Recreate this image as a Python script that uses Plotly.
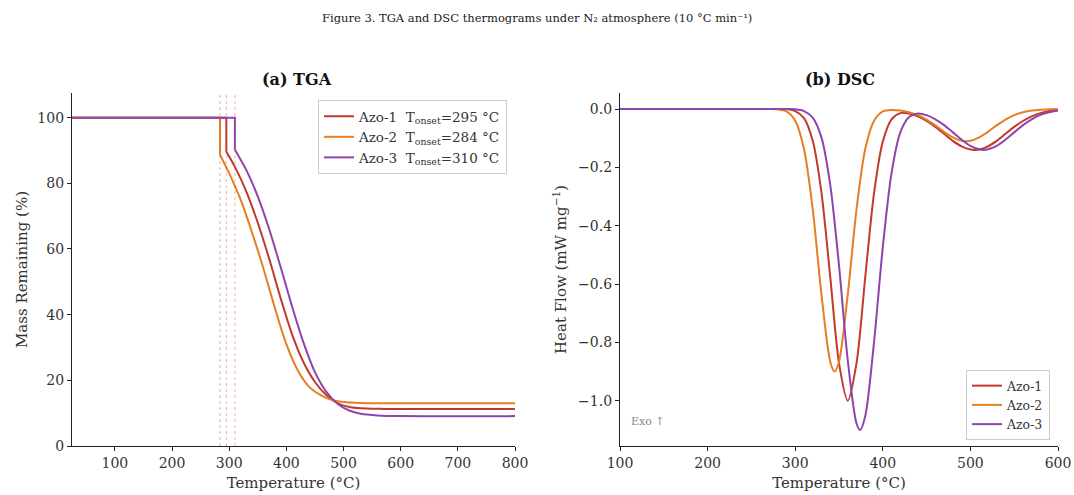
import plotly.graph_objects as go

# ---------------- data ----------------
series_names = ["Azo-1", "Azo-2", "Azo-3"]
onsets = [295, 284, 310]
colors = ["#c0392b", "#e67e22", "#8e44ad"]

# TGA (Temperature °C, Mass remaining %)
tga_T_azo1 = [25, 295, 295, 310, 330, 350, 370, 390, 410, 430, 450, 470, 490, 510, 540, 570, 800]
tga_m_azo1 = [100, 100, 89.6, 85, 77.5, 68, 57, 45, 34, 25.5, 19.5, 15.5, 13, 11.9, 11.4, 11.3, 11.3]
tga_T_azo2 = [25, 284, 284, 300, 320, 340, 360, 380, 400, 420, 440, 460, 480, 500, 530, 560, 800]
tga_m_azo2 = [100, 100, 88.7, 83, 75, 65, 54, 42, 31, 23, 18, 15.5, 14, 13.4, 13.1, 13.0, 13.0]
tga_T_azo3 = [25, 310, 310, 330, 350, 370, 390, 410, 430, 450, 470, 490, 510, 530, 560, 600, 800]
tga_m_azo3 = [100, 100, 90.2, 84, 76, 66, 54.5, 42.5, 31.5, 22.5, 16.5, 12.8, 10.8, 9.8, 9.3, 9.1, 9.1]

# DSC (Temperature °C, Heat flow mW/mg)
dsc_T_azo1 = [100, 200, 280, 290, 300, 310, 320, 330, 340, 350, 360, 370, 380, 390, 400, 410, 420,
              430, 440, 450, 460, 470, 480, 490, 500, 505, 510, 520, 530, 540, 550, 560, 570, 580,
              590, 600]
dsc_h_azo1 = [0, 0, 0, -0.001, -0.007, -0.031, -0.109, -0.287, -0.575, -0.871, -1.000, -0.871, -0.575,
              -0.288, -0.111, -0.035, -0.014, -0.015, -0.025, -0.041, -0.061, -0.085, -0.109, -0.128,
              -0.139, -0.140, -0.139, -0.128, -0.109, -0.085, -0.061, -0.041, -0.025, -0.014, -0.007,
              -0.004]
dsc_T_azo2 = [100, 200, 270, 280, 290, 300, 310, 320, 330, 340, 345, 350, 360, 370, 380, 390, 400,
              410, 420, 430, 440, 450, 460, 470, 480, 490, 500, 510, 520, 530, 540, 550, 560, 570,
              580, 590, 600]
dsc_h_azo2 = [0, 0, 0, -0.001, -0.008, -0.040, -0.136, -0.343, -0.636, -0.866, -0.900, -0.866, -0.636,
              -0.343, -0.136, -0.040, -0.008, -0.003, -0.005, -0.011, -0.021, -0.036, -0.056, -0.078,
              -0.097, -0.109, -0.109, -0.097, -0.078, -0.056, -0.036, -0.021, -0.011, -0.005, -0.002,
              -0.001, 0]
dsc_T_azo3 = [100, 200, 290, 300, 310, 320, 330, 340, 350, 360, 370, 374, 380, 390, 400, 410, 420,
              430, 440, 450, 460, 470, 480, 490, 500, 510, 515, 520, 530, 540, 550, 560, 570, 580,
              590, 600]
dsc_h_azo3 = [0, 0, 0, -0.001, -0.007, -0.029, -0.098, -0.260, -0.536, -0.861, -1.078, -1.100, -1.052,
              -0.799, -0.473, -0.219, -0.080, -0.027, -0.015, -0.021, -0.035, -0.055, -0.080, -0.105,
              -0.126, -0.138, -0.140, -0.138, -0.126, -0.105, -0.080, -0.055, -0.035, -0.020, -0.011,
              -0.005]

tga_T = [tga_T_azo1, tga_T_azo2, tga_T_azo3]
tga_m = [tga_m_azo1, tga_m_azo2, tga_m_azo3]
dsc_T = [dsc_T_azo1, dsc_T_azo2, dsc_T_azo3]
dsc_h = [dsc_h_azo1, dsc_h_azo2, dsc_h_azo3]

FONT = "DejaVu Serif"
W, H = 1074, 495

fig = go.Figure()

for i in range(3):
    # plateau + vertical drop at onset (straight segments)
    fig.add_trace(go.Scatter(
        x=tga_T[i][:3], y=tga_m[i][:3], mode="lines",
        line=dict(color=colors[i], width=2),
        name=f"{series_names[i]}  T<sub>onset</sub>={onsets[i]} °C",
        legendgroup=f"tga{i}", xaxis="x", yaxis="y", legend="legend"))
    # decomposition curve (smoothed)
    fig.add_trace(go.Scatter(
        x=tga_T[i][2:], y=tga_m[i][2:], mode="lines",
        line=dict(color=colors[i], width=2, shape="spline", smoothing=0.8),
        legendgroup=f"tga{i}", showlegend=False,
        xaxis="x", yaxis="y", legend="legend"))

for i in range(3):
    fig.add_trace(go.Scatter(
        x=dsc_T[i], y=dsc_h[i], mode="lines",
        line=dict(color=colors[i], width=2, shape="spline", smoothing=0.8),
        name=series_names[i],
        xaxis="x2", yaxis="y2", legend="legend2"))

for t in onsets:
    fig.add_shape(type="line", xref="x", yref="y domain", x0=t, x1=t, y0=0, y1=1.0,
                  line=dict(color="rgba(214,80,80,0.45)", width=1, dash="dot"))

axis_common = dict(
    showline=True, linecolor="#222", linewidth=1.2, ticks="outside", ticklen=4,
    tickcolor="#222", showgrid=False, zeroline=False,
    tickfont=dict(family=FONT, size=14, color="#333"),
    title_font=dict(family=FONT, size=15, color="#333"),
)

fig.update_layout(
    width=W, height=H,
    margin=dict(l=0, r=0, t=0, b=0, autoexpand=False),
    paper_bgcolor="white", plot_bgcolor="white",
    font=dict(family=FONT, color="#333"),
    xaxis=dict(domain=[72 / W, 515 / W], range=[25, 800], anchor="y",
               tickvals=[100, 200, 300, 400, 500, 600, 700, 800],
               title=dict(text="Temperature (°C)", standoff=7), **axis_common),
    yaxis=dict(domain=[1 - 446 / H, 1 - 93 / H], range=[0, 107.5], anchor="x",
               tickvals=[0, 20, 40, 60, 80, 100],
               title=dict(text="Mass Remaining (%)", standoff=6), **axis_common),
    xaxis2=dict(domain=[620 / W, 1058 / W], range=[100, 600], anchor="y2",
                tickvals=[100, 200, 300, 400, 500, 600],
                title=dict(text="Temperature (°C)", standoff=7), **axis_common),
    yaxis2=dict(domain=[1 - 446 / H, 1 - 93 / H], range=[-1.155, 0.055], anchor="x2",
                tickvals=[0, -0.2, -0.4, -0.6, -0.8, -1.0],
                ticktext=["0.0", "−0.2", "−0.4", "−0.6", "−0.8", "−1.0"],
                title=dict(text="Heat Flow (mW mg<sup>−1</sup>)", standoff=7), **axis_common),
    legend=dict(x=507 / W, y=1 - 100 / H, xanchor="right", yanchor="top",
                bgcolor="white", bordercolor="#ccc", borderwidth=1,
                font=dict(family=FONT, size=13.5, color="#333"), tracegroupgap=0),
    legend2=dict(x=1050 / W, y=1 - 440 / H, xanchor="right", yanchor="bottom",
                 bgcolor="white", bordercolor="#ccc", borderwidth=1,
                 font=dict(family=FONT, size=12.5, color="#333")),
    showlegend=True,
)

fig.add_annotation(text="Figure 3. TGA and DSC thermograms under N₂ atmosphere (10 °C min⁻¹)",
                   x=0.5, y=1 - 18 / H, xref="paper", yref="paper", showarrow=False,
                   xanchor="center", yanchor="middle",
                   font=dict(family=FONT, size=11.5, color="#222"))
fig.add_annotation(text="<b>(a) TGA</b>", x=297 / W, y=1 - 79 / H, xref="paper", yref="paper",
                   showarrow=False, xanchor="center", yanchor="middle",
                   font=dict(family=FONT, size=16, color="#111"))
fig.add_annotation(text="<b>(b) DSC</b>", x=840 / W, y=1 - 79 / H, xref="paper", yref="paper",
                   showarrow=False, xanchor="center", yanchor="middle",
                   font=dict(family=FONT, size=16, color="#111"))
fig.add_annotation(text="Exo ↑", x=0.02, y=0.045, xref="x2 domain", yref="y2 domain",
                   xanchor="left", yanchor="bottom", showarrow=False,
                   font=dict(family=FONT, size=11, color="#888"))

fig.write_html("out.html")
